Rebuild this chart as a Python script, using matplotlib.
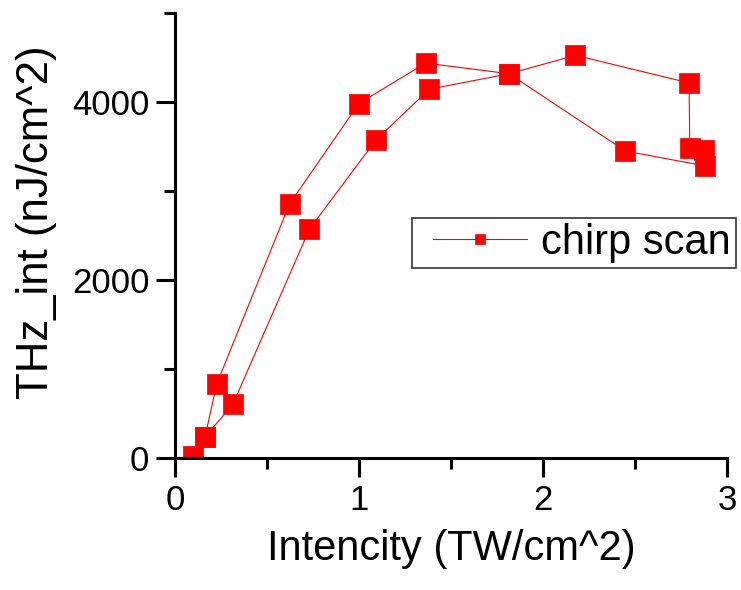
import matplotlib
matplotlib.use('Agg')
import matplotlib.pyplot as plt
from matplotlib.ticker import MultipleLocator
from matplotlib.legend_handler import HandlerLine2D

plt.rcParams['font.family'] = ['Liberation Sans', 'DejaVu Sans']

# chirp scan data, in measurement order
intensity = [0.096, 0.161, 0.225, 0.621, 0.998, 1.361, 1.815, 2.176, 2.794, 2.798,
             2.873, 2.881, 2.448, 1.815, 1.380, 1.089, 0.729, 0.312, 0.161]
thz_int = [30, 244, 841, 2858, 3984, 4438, 4318, 4525, 4215, 3481,
           3465, 3283, 3451, 4318, 4144, 3570, 2575, 606, 244]

x_ticks = [0, 1, 2, 3]
y_ticks = [0, 2000, 4000]

fig = plt.figure(figsize=(7.41, 5.90), dpi=100)
ax = fig.add_axes([0.2368, 0.2229, 0.7442, 0.7551])

line, = ax.plot(intensity, thz_int, color='#ff0000', linewidth=0.8,
                marker='s', markersize=14, markeredgecolor='#ff0000',
                markeredgewidth=0.5, label='chirp scan')

ax.set_xlim(0, 3)
ax.set_ylim(0, 5000)
ax.set_xticks(x_ticks)
ax.set_yticks(y_ticks)
ax.xaxis.set_minor_locator(MultipleLocator(0.5))
ax.yaxis.set_minor_locator(MultipleLocator(1000))

for side in ['top', 'right']:
    ax.spines[side].set_visible(False)
for side in ['left', 'bottom']:
    ax.spines[side].set_linewidth(2.2)

ax.tick_params(which='major', direction='out', length=13.7, width=2.2,
               labelsize=25, pad=5)
ax.tick_params(which='minor', direction='out', length=8, width=2.2)

ax.set_xlabel('Intencity (TW/cm^2)', fontsize=30, labelpad=8)
ax.set_ylabel('THz_int (nJ/cm^2)', fontsize=31.5)
ax.yaxis.set_label_coords(-0.215, 0.53)

leg = ax.legend(handles=[line], loc='upper left',
                bbox_to_anchor=(411.7 / 741, 1 - 217.7 / 590),
                bbox_transform=fig.transFigure, borderaxespad=0,
                fontsize=30, borderpad=0.12, handlelength=2.65,
                handletextpad=0.33, markerscale=0.53, fancybox=False,
                framealpha=1, edgecolor='#333333',
                handler_map={line: HandlerLine2D(xpad=0.4)})
leg.get_frame().set_linewidth(1.2)

fig.savefig('out.png', dpi=100)
